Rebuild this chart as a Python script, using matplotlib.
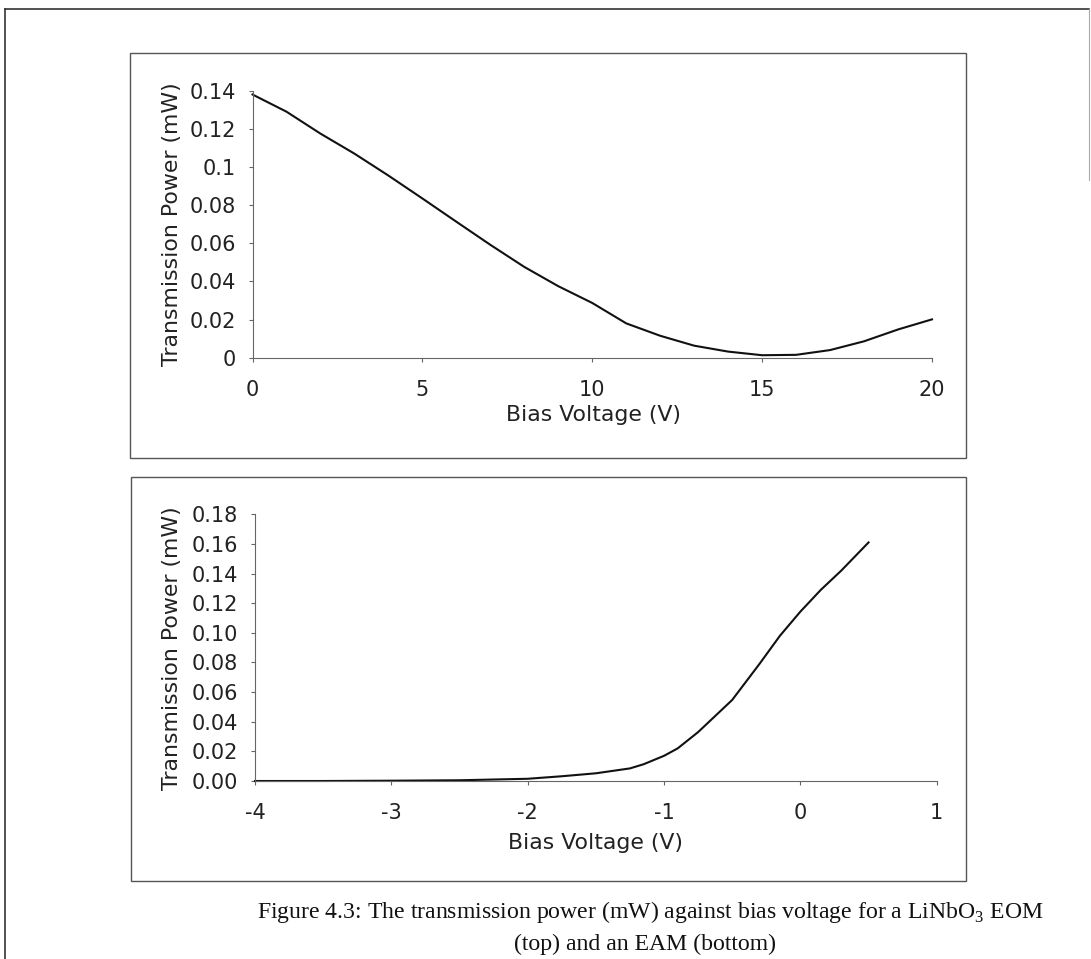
import matplotlib
matplotlib.use("Agg")
import matplotlib.pyplot as plt
from matplotlib.patches import Rectangle
from matplotlib.lines import Line2D

# ---- data ----
eom_voltage = [0, 1, 2, 3, 4, 5, 6, 7, 8, 9, 10, 11, 12, 13, 14, 15, 16, 17, 18, 19, 20]
eom_power = [0.138, 0.129, 0.1175, 0.107, 0.0955, 0.0835, 0.0713, 0.0592, 0.0476,
             0.0375, 0.0287, 0.018, 0.0115, 0.0063, 0.0032, 0.0013, 0.0015, 0.004,
             0.0086, 0.0148, 0.0201]

eam_voltage = [-4.0, -3.5, -3.0, -2.5, -2.0, -1.75, -1.5, -1.25, -1.15, -1.0, -0.9,
               -0.75, -0.5, -0.3, -0.15, 0.0, 0.15, 0.3, 0.5]
eam_power = [0.0, 0.0, 0.0002, 0.0005, 0.0015, 0.0032, 0.0052, 0.0085, 0.0113, 0.017,
             0.022, 0.033, 0.0547, 0.079, 0.098, 0.1143, 0.129, 0.142, 0.161]

eom_xticks = [0, 5, 10, 15, 20]
eom_yticks = [0, 0.02, 0.04, 0.06, 0.08, 0.1, 0.12, 0.14]
eom_yticklabels = ["0", "0.02", "0.04", "0.06", "0.08", "0.1", "0.12", "0.14"]
eam_xticks = [-4, -3, -2, -1, 0, 1]
eam_xticklabels = ["-4", "-3", "-2", "-1", "0", "1"]
eam_yticks = [0, 0.02, 0.04, 0.06, 0.08, 0.10, 0.12, 0.14, 0.16, 0.18]
eam_yticklabels = ["0.00", "0.02", "0.04", "0.06", "0.08", "0.10", "0.12", "0.14", "0.16", "0.18"]

xlabel = "Bias Voltage (V)"
ylabel = "Transmission Power (mW)"
caption1 = r"Figure 4.3: The transmission power (mW) against bias voltage for a LiNbO$_{\mathrm{3}}$ EOM"
caption2 = "(top) and an EAM (bottom)"

# ---- figure ----
W, H = 1091, 959
plt.rcParams['font.family'] = ['DejaVu Sans']
plt.rcParams['axes.unicode_minus'] = False
plt.rcParams['mathtext.fontset'] = 'custom'
plt.rcParams['mathtext.rm'] = 'Liberation Serif'
fig = plt.figure(figsize=(W / 100, H / 100), dpi=100)

def fx(px):
    return px / W

def fy(py):
    return 1 - py / H

spine_col = '#666666'
text_col = '#222222'
fs_tick = 15
fs_label = 15.8

def style(ax):
    for s in ['top', 'right']:
        ax.spines[s].set_visible(False)
    for s in ['left', 'bottom']:
        ax.spines[s].set_color(spine_col)
        ax.spines[s].set_linewidth(0.8)
    ax.tick_params(axis='both', direction='out', length=3, width=0.8,
                   color=spine_col, labelcolor=text_col, labelsize=fs_tick)
    ax.tick_params(axis='y', pad=9)
    ax.tick_params(axis='x', pad=13)
    ax.set_facecolor('none')

# top axes
ax1 = fig.add_axes([fx(252.5), fy(357.7), fx(932) - fx(252.5), fy(90.7) - fy(357.7)])
ax1.plot(eom_voltage, eom_power, color='#111111', lw=1.5, clip_on=False)
ax1.set_xlim(0, 20)
ax1.set_ylim(0, 0.14)
ax1.set_xticks(eom_xticks)
ax1.set_yticks(eom_yticks)
ax1.set_yticklabels(eom_yticklabels)
style(ax1)

# bottom axes
ax2 = fig.add_axes([fx(255), fy(781), fx(936.7) - fx(255), fy(514.3) - fy(781)])
ax2.plot(eam_voltage, eam_power, color='#111111', lw=1.5, clip_on=False)
ax2.set_xlim(-4, 1)
ax2.set_ylim(0, 0.18)
ax2.set_xticks(eam_xticks)
ax2.set_xticklabels(eam_xticklabels)
ax2.set_yticks(eam_yticks)
ax2.set_yticklabels(eam_yticklabels)
style(ax2)

# axis labels
fig.text(fx(594), fy(415), xlabel, ha='center', va='center', fontsize=fs_label, color=text_col)
fig.text(fx(596), fy(843), xlabel, ha='center', va='center', fontsize=fs_label, color=text_col)
fig.text(fx(172), fy(224), ylabel, ha='center', va='center', rotation=90, fontsize=fs_label, color=text_col)
fig.text(fx(172), fy(648), ylabel, ha='center', va='center', rotation=90, fontsize=fs_label, color=text_col)

# panel boxes
for (x0, y0, x1, y1) in [(130, 53, 966, 458), (131, 477, 966, 881)]:
    fig.patches.append(Rectangle((fx(x0), fy(y1)), fx(x1) - fx(x0), fy(y0) - fy(y1),
                                 transform=fig.transFigure, fill=False,
                                 edgecolor='#555555', lw=1.0))

# outer page frame (partial)
fig.lines.append(Line2D([fx(5), fx(5)], [fy(959), fy(9)], transform=fig.transFigure,
                        color='#333333', lw=1.2))
fig.lines.append(Line2D([fx(5), fx(1089)], [fy(9), fy(9)], transform=fig.transFigure,
                        color='#333333', lw=1.2))
fig.lines.append(Line2D([fx(1089), fx(1089)], [fy(9), fy(180)], transform=fig.transFigure,
                        color='#aaaaaa', lw=0.8))

# caption
fig.text(fx(650), fy(912), caption1, ha='center', va='center', fontsize=17.1,
         family='Liberation Serif', color='#111111')
fig.text(fx(645), fy(944), caption2, ha='center', va='center', fontsize=17.1,
         family='Liberation Serif', color='#111111')

fig.savefig('out.png', dpi=100, facecolor='white')
